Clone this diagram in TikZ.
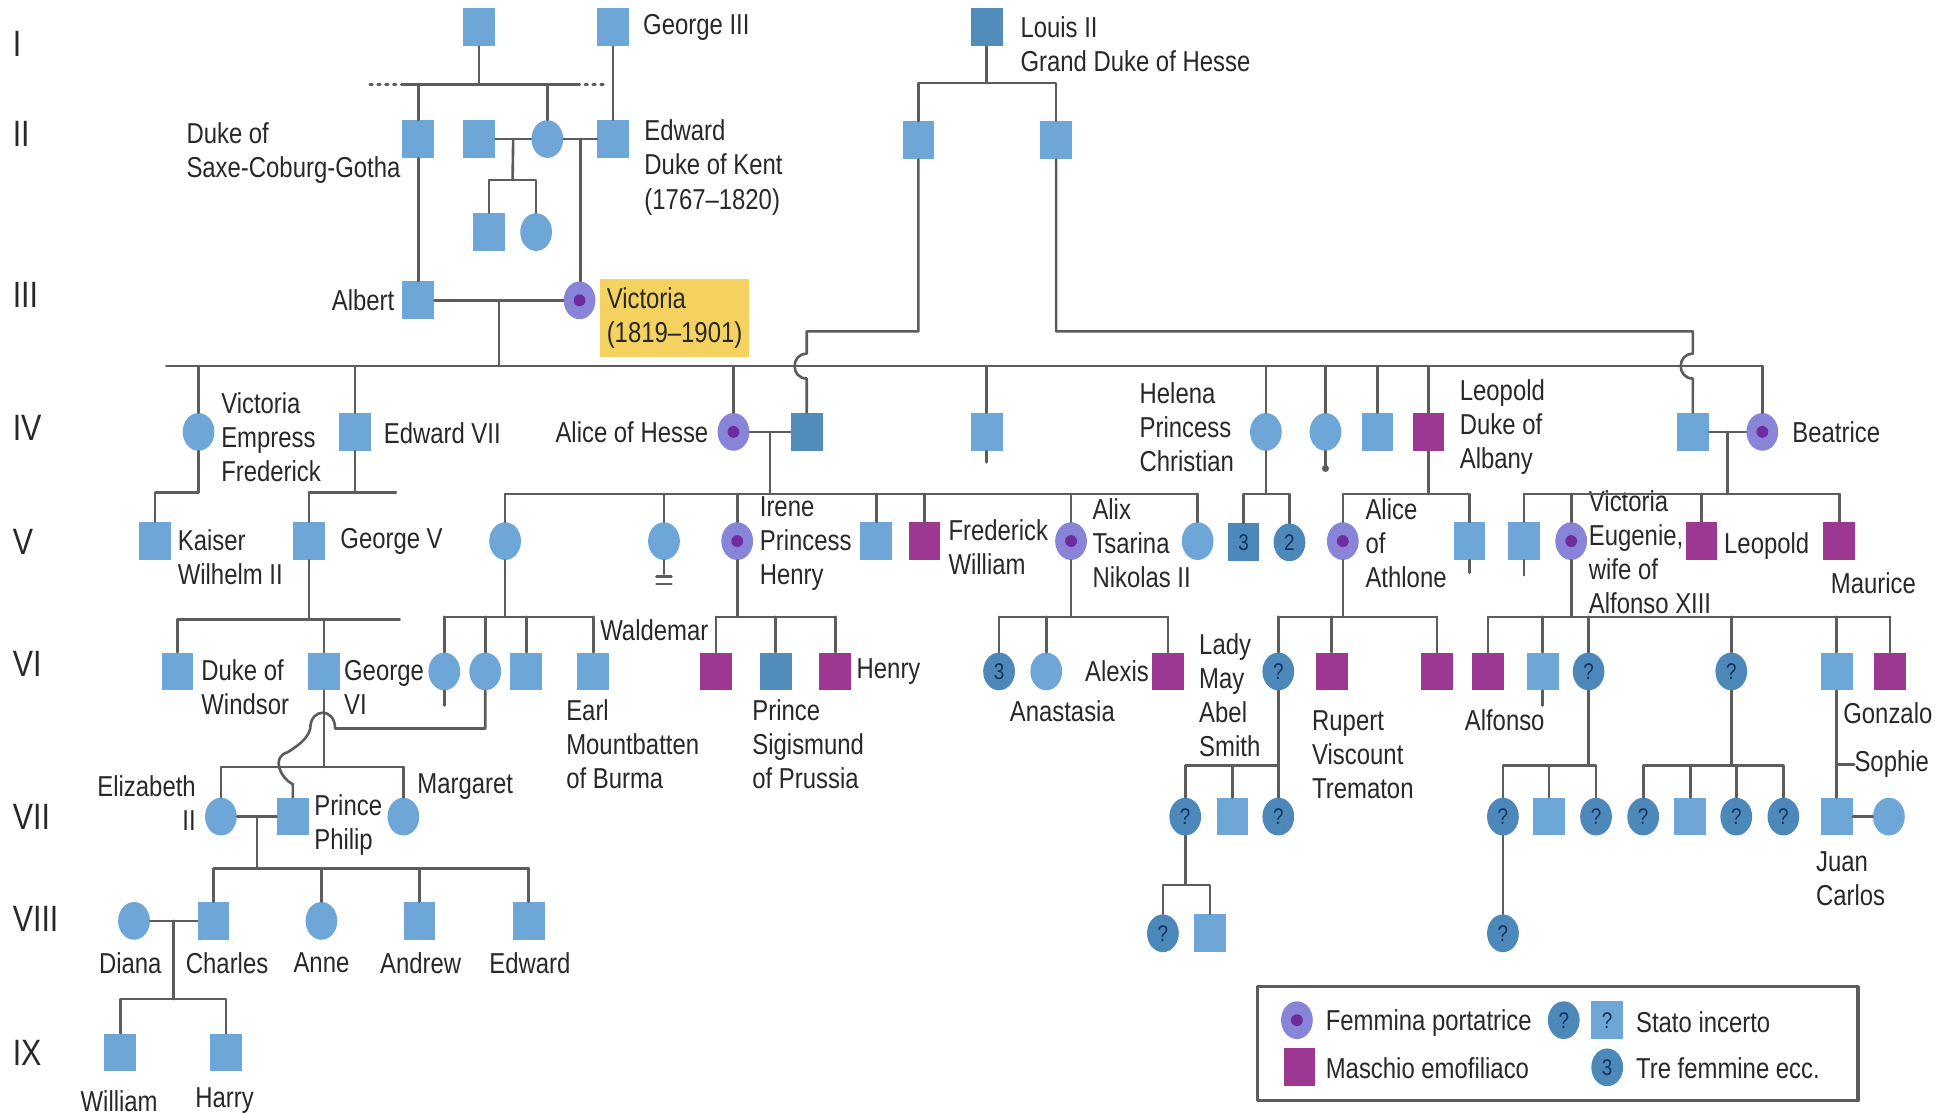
\documentclass[tikz,border=0pt]{standalone}
\usepackage{fontspec}
\setmainfont{Liberation Sans}[FakeStretch=0.83]
\usetikzlibrary{shapes.geometric,calc}
\definecolor{pblue}{RGB}{110,167,215}
\definecolor{dblue}{RGB}{82,140,186}
\definecolor{qblue}{RGB}{76,136,186}
\definecolor{navy}{RGB}{22,52,92}
\definecolor{hemoc}{RGB}{156,56,146}
\definecolor{carr}{RGB}{136,132,216}
\definecolor{carrdot}{RGB}{112,44,158}
\definecolor{lgray}{RGB}{92,92,92}
\definecolor{txt}{RGB}{40,40,40}
\definecolor{vicyel}{RGB}{245,210,96}

\begin{document}
\begin{tikzpicture}[x=0.025cm,y=-0.025cm,line cap=round,line join=round,
  ln/.style={draw=lgray,line width=1.5pt},
  shp/.style={inner sep=0,minimum width=0.64cm,minimum height=0.76cm},
  male/.style={shp,rectangle,fill=pblue},
  dmale/.style={shp,rectangle,fill=dblue},
  fem/.style={shp,ellipse,fill=pblue},
  carrier/.style={shp,ellipse,fill=carr,path picture={\fill[carrdot] (path picture bounding box.center) circle (3.4pt);}},
  hemo/.style={shp,rectangle,fill=hemoc},
  qfem/.style={shp,ellipse,fill=qblue,text=navy,font=\fontsize{13}{13}\selectfont},
  qmale/.style={shp,rectangle,fill=pblue,text=navy,font=\fontsize{13}{13}\selectfont},
  grpm/.style={shp,rectangle,fill=qblue,text=navy,font=\fontsize{13}{13}\selectfont},
  lbl/.style={anchor=west,align=left,inner sep=0,text=txt,font=\fontsize{16.5}{19.5}\selectfont},
  gen/.style={anchor=west,inner sep=0,text=txt,font=\fontsize{21}{21}\selectfont}]
\useasboundingbox (0,0) rectangle (1568,900);

% generation numerals
\node[gen] (g1) at (10,35) {I};
\node[gen] (g2) at (10,108) {II};
\node[gen] (g3) at (10,238) {III};
\node[gen] (g4) at (10,345) {IV};
\node[gen] (g5) at (10,437) {V};
\node[gen] (g6) at (10,535) {VI};
\node[gen] (g7) at (10,658) {VII};
\node[gen] (g8) at (10,740) {VIII};
\node[gen] (g9) at (10,848) {IX};

% generation I
\node[male] (anc) at (386,22) {};
\node[male] (george) at (494,22) {};
\node[lbl] (t-george) at (518,22) {George III};
\node[dmale] (louis) at (795,22) {};
\node[lbl] (t-louis) at (822,36) {Louis II\\Grand Duke of Hesse};

% generation II
\node[male] (scg) at (337,112) {};
\node[lbl] (t-scg) at (150,123) {Duke of\\Saxe-Coburg-Gotha};
\node[male] (kar) at (386,112) {};
\node[fem] (vmary) at (441,112) {};
\node[male] (kent) at (494,112) {};
\node[lbl] (t-kent) at (519,135) {Edward\\Duke of Kent\\(1767--1820)};
\node[male] (hs1) at (394,187) {};
\node[fem] (hs2) at (432,187) {};
\node[male] (lou1) at (740,113) {};
\node[male] (lou2) at (851,113) {};

% generation III
\node[male] (albert) at (337,242) {};
\node[lbl,anchor=east] (t-albert) at (318,242) {Albert};
\node[carrier] (victoria) at (467,242) {};
\node[lbl,fill=vicyel,inner xsep=4pt,inner ysep=5pt] (t-victoria) at (483,256) {Victoria\\(1819--1901)};

% generation IV
\node[fem] (vicfred) at (160,348) {};
\node[lbl] (t-vicfred) at (178,352) {Victoria\\Empress\\Frederick};
\node[male] (ed7) at (286,348) {};
\node[lbl] (t-ed7) at (309,349) {Edward VII};
\node[carrier] (alice) at (591,348) {};
\node[lbl,anchor=east] (t-alice) at (571,348) {Alice of Hesse};
\node[dmale] (louis4) at (650,348) {};
\node[male] (alfred) at (795,348) {};
\node[fem] (helena) at (1020,348) {};
\node[lbl] (t-helena) at (918,344) {Helena\\Princess\\Christian};
\node[fem] (louise) at (1068,348) {};
\node[male] (arthur) at (1110,348) {};
\node[hemo] (leopold) at (1151,348) {};
\node[lbl] (t-leopold) at (1176,344) {Leopold\\Duke of\\Albany};
\node[male] (henryb) at (1364,348) {};
\node[carrier] (beatrice) at (1420,348) {};
\node[lbl] (t-beatrice) at (1444,348) {Beatrice};

% generation V
\node[male] (wilhelm) at (125,436) {};
\node[lbl] (t-wilhelm) at (143,449) {Kaiser\\Wilhelm II};
\node[male] (george5) at (249,436) {};
\node[lbl] (t-george5) at (274,436) {George V};
\node[fem] (vhes) at (407,436) {};
\node[fem] (ella) at (535,436) {};
\node[carrier] (irene) at (594,436) {};
\node[lbl] (t-irene) at (612,438) {Irene\\Princess\\Henry};
\node[male] (ernst) at (706,436) {};
\node[hemo] (fritz) at (745,436) {};
\node[lbl] (t-fritz) at (764,441) {Frederick\\William};
\node[carrier] (alix) at (863,436) {};
\node[lbl] (t-alix) at (880,438) {Alix\\Tsarina\\Nikolas II};
\node[fem] (may) at (965,436) {};
\node[grpm] (hel3) at (1002,437) {3};
\node[qfem] (hel2) at (1039,437) {2};
\node[carrier] (athlone) at (1082,436) {};
\node[lbl] (t-athlone) at (1100,438) {Alice\\of\\Athlone};
\node[male] (charlesed) at (1184,436) {};
\node[male] (alex) at (1228,436) {};
\node[carrier] (ena) at (1266,436) {};
\node[lbl] (t-ena) at (1280,445) {Victoria\\Eugenie,\\wife of\\Alfonso XIII};
\node[hemo] (leop2) at (1371,436) {};
\node[lbl] (t-leop2) at (1389,440) {Leopold};
\node[hemo] (maurice) at (1482,436) {};
\node[lbl] (t-maurice) at (1475,470) {Maurice};

% generation VI
\node[male] (windsor) at (143,541) {};
\node[lbl] (t-windsor) at (162,554) {Duke of\\Windsor};
\node[male] (george6) at (261,541) {};
\node[lbl] (t-george6) at (277,554) {George\\VI};
\node[fem] (alb1) at (358,541) {};
\node[fem] (alb2) at (391,541) {};
\node[male] (alb3) at (424,541) {};
\node[male] (mountb) at (478,541) {};
\node[lbl] (t-mountb) at (456,600) {Earl\\Mountbatten\\of Burma};
\node[hemo] (walde) at (577,541) {};
\node[lbl,anchor=east] (t-walde) at (571,508) {Waldemar};
\node[dmale] (sigis) at (625,541) {};
\node[lbl] (t-sigis) at (606,600) {Prince\\Sigismund\\of Prussia};
\node[hemo] (henry) at (673,541) {};
\node[lbl] (t-henry) at (690,541) {Henry};
\node[qfem] (olga) at (805,541) {3};
\node[fem] (anast) at (843,541) {};
\node[lbl,anchor=center] (t-anast) at (856,573) {Anastasia};
\node[hemo] (alexis) at (941,541) {};
\node[lbl,anchor=east] (t-alexis) at (926,541) {Alexis};
\node[qfem] (lmay) at (1030,541) {?};
\node[lbl] (t-lmay) at (966,560) {Lady\\May\\Abel\\Smith};
\node[hemo] (rupert) at (1073,541) {};
\node[lbl] (t-rupert) at (1057,608) {Rupert\\Viscount\\Trematon};
\node[hemo] (maurtk) at (1158,541) {};
\node[hemo] (alfonso) at (1199,541) {};
\node[lbl] (t-alfonso) at (1180,580) {Alfonso};
\node[male] (jaime) at (1243,541) {};
\node[qfem] (beatr) at (1280,541) {?};
\node[qfem] (maria) at (1395,541) {?};
\node[male] (juan) at (1480,541) {};
\node[hemo] (gonzalo) at (1523,541) {};
\node[lbl] (t-gonzalo) at (1485,575) {Gonzalo};

% generation VII
\node[fem] (eliz) at (178,658) {};
\node[lbl,anchor=east,align=right] (t-eliz) at (158,647) {Elizabeth\\II};
\node[male] (philip) at (236,658) {};
\node[lbl] (t-philip) at (253,665) {Prince\\Philip};
\node[fem] (marg) at (325,658) {};
\node[lbl] (t-marg) at (336,634) {Margaret};
\node[qfem] (lm1) at (955,658) {?};
\node[male] (lm2) at (993,658) {};
\node[qfem] (lm3) at (1030,658) {?};
\node[qfem] (bt1) at (1211,658) {?};
\node[male] (bt2) at (1248,658) {};
\node[qfem] (bt3) at (1286,658) {?};
\node[qfem] (mc1) at (1324,658) {?};
\node[male] (mc2) at (1362,658) {};
\node[qfem] (mc3) at (1399,658) {?};
\node[qfem] (mc4) at (1437,658) {?};
\node[male] (jcarlos) at (1480,658) {};
\node[lbl] (t-jcarlos) at (1463,708) {Juan\\Carlos};
\node[fem] (sophie) at (1522,658) {};
\node[lbl] (t-sophie) at (1494,616) {Sophie};

% generation VIII
\node[fem] (diana) at (108,742) {};
\node[male] (charles) at (172,742) {};
\node[fem] (anne) at (259,742) {};
\node[male] (andrew) at (338,742) {};
\node[male] (edward) at (426,742) {};
\node[lbl,anchor=center] (t-diana) at (105,776) {Diana};
\node[lbl,anchor=center] (t-charles) at (183,776) {Charles};
\node[lbl,anchor=center] (t-anne) at (259,776) {Anne};
\node[lbl,anchor=center] (t-andrew) at (339,776) {Andrew};
\node[lbl,anchor=center] (t-edward) at (427,776) {Edward};
\node[qfem] (lm11) at (937,752) {?};
\node[male] (lm12) at (975,752) {};
\node[qfem] (bt11) at (1211,752) {?};

% generation IX
\node[male] (william) at (97,848) {};
\node[male] (harry) at (182,848) {};
\node[lbl,anchor=center] (t-william) at (96,887) {William};
\node[lbl,anchor=center] (t-harry) at (181,887) {Harry};

% I -> II
\coordinate (sb1l) at (324,68); \coordinate (sb1r) at (465,68);
\coordinate (sb1ld) at (298,68); \coordinate (sb1rd) at (490,68);
\draw[ln] (sb1l) -- (sb1r);
\draw[ln,dash pattern=on 1.5pt off 3pt] (sb1ld) -- (sb1l) (sb1r) -- (sb1rd);
\draw[ln] (anc) -- (anc |- sb1l);
\draw[ln] (scg) -- (scg |- sb1l);
\draw[ln] (vmary) -- (vmary |- sb1l);
\draw[ln] (george) -- (kent);
\draw[ln] (kar) -- (vmary) -- (kent);
\coordinate (m1) at ($(kar)!0.5!(vmary)$);
\coordinate (sb2) at (413,145);
\draw[ln] (m1) -- (sb2);
\draw[ln] (hs1) -- (hs1 |- sb2) -- (hs2 |- sb2) -- (hs2);
\coordinate (m2) at ($(vmary)!0.5!(kent)$);
\draw[ln] (m2) -- (m2 |- victoria.north);
\coordinate (sbL) at (740,67); \coordinate (sbLr) at (851,67);
\draw[ln] (louis) -- (louis |- sbL);
\draw[ln] (lou1) -- (sbL) -- (sbLr) -- (lou2);

% III -> IV
\draw[ln] (scg) -- (albert);
\draw[ln] (albert) -- (victoria);
\coordinate (m3) at ($(albert)!0.5!(victoria)$);
\coordinate (sb4l) at (134,295); \coordinate (sb4r) at (1420,295);
\draw[ln] (m3) -- (m3 |- sb4l);
\draw[ln] (sb4l) -- (sb4r);
\foreach \c in {vicfred,ed7,alice,alfred,helena,louise,arthur,leopold,beatrice}
  \draw[ln] (\c) -- (\c |- sb4l);
% Hesse sons crossing over
\coordinate (h1) at (740,267); \coordinate (h2) at (650,267);
\draw[ln] (lou1) -- (h1) -- (h2) -- ++(0,18) .. controls +(-13,0) and +(-13,0) .. ++(0,20) -- (louis4);
\coordinate (h3) at (851,267); \coordinate (h4) at (1364,267);
\draw[ln] (lou2) -- (h3) -- (h4) -- ++(0,18) .. controls +(-13,0) and +(-13,0) .. ++(0,20) -- (henryb);
\draw[ln] (alice) -- (louis4);
\draw[ln] (henryb) -- (beatrice);
\draw[ln] (alfred.south) -- ++(0,9);
\draw[ln] (louise.south) -- ++(0,14);
\fill[lgray] ($(louise.south)+(0,14)$) circle (2pt);

% IV -> V
\coordinate (vf1) at (160,397); \coordinate (vf2) at (125,397);
\draw[ln] (vicfred) -- (vf1) -- (vf2) -- (wilhelm);
\coordinate (e1) at (286,397); \coordinate (e2) at (249,397); \coordinate (e3) at (319,397);
\draw[ln] (ed7) -- (e1);
\draw[ln] (e2) -- (e3);
\draw[ln] (e2) -- (george5);
\coordinate (m4) at ($(alice)!0.5!(louis4)$);
\coordinate (sb5al) at (407,398); \coordinate (sb5ar) at (965,398);
\draw[ln] (m4) -- (m4 |- sb5al);
\draw[ln] (sb5al) -- (sb5ar);
\foreach \c in {vhes,ella,irene,ernst,fritz,alix,may}
  \draw[ln] (\c) -- (\c |- sb5al);
\draw[ln] (ella.south) -- ++(0,11);
\draw[ln] ($(ella.south)+(-6,13)$) -- ++(12,0);
\draw[ln] ($(ella.south)+(-6,19)$) -- ++(12,0);
\coordinate (sb5bl) at (1002,398); \coordinate (sb5br) at (1039,398);
\draw[ln] (helena) -- (helena |- sb5bl);
\draw[ln] (hel3) -- (sb5bl) -- (sb5br) -- (hel2);
\coordinate (sb5cl) at (1082,398); \coordinate (sb5cr) at (1184,398);
\draw[ln] (leopold) -- (leopold |- sb5cl);
\draw[ln] (athlone) -- (sb5cl) -- (sb5cr) -- (charlesed);
\draw[ln] (charlesed.south) -- ++(0,10);
\coordinate (m5) at ($(henryb)!0.5!(beatrice)$);
\coordinate (sb5dl) at (1228,398); \coordinate (sb5dr) at (1482,398);
\draw[ln] (m5) -- (m5 |- sb5dl);
\draw[ln] (sb5dl) -- (sb5dr);
\foreach \c in {alex,ena,leop2,maurice}
  \draw[ln] (\c) -- (\c |- sb5dl);
\draw[ln] (alex.south) -- ++(0,12);

% V -> VI
\coordinate (sb6al) at (143,499); \coordinate (sb6ar) at (322,499);
\draw[ln] (george5) -- (george5 |- sb6al);
\draw[ln] (sb6al) -- (sb6ar);
\foreach \c in {windsor,george6}
  \draw[ln] (\c) -- (\c |- sb6al);
\coordinate (sb6bl) at (358,497); \coordinate (sb6br) at (478,497);
\draw[ln] (vhes) -- (vhes |- sb6bl);
\draw[ln] (sb6bl) -- (sb6br);
\foreach \c in {alb1,alb2,alb3,mountb}
  \draw[ln] (\c) -- (\c |- sb6bl);
\draw[ln] (alb1.south) -- ++(0,12);
\coordinate (sb6cl) at (577,497); \coordinate (sb6cr) at (673,497);
\draw[ln] (irene) -- (irene |- sb6cl);
\draw[ln] (sb6cl) -- (sb6cr);
\foreach \c in {walde,sigis,henry}
  \draw[ln] (\c) -- (\c |- sb6cl);
\coordinate (sb6dl) at (805,497); \coordinate (sb6dr) at (941,497);
\draw[ln] (alix) -- (alix |- sb6dl);
\draw[ln] (sb6dl) -- (sb6dr);
\foreach \c in {olga,anast,alexis}
  \draw[ln] (\c) -- (\c |- sb6dl);
\coordinate (sb6el) at (1030,497); \coordinate (sb6er) at (1158,497);
\draw[ln] (athlone) -- (athlone |- sb6el);
\draw[ln] (sb6el) -- (sb6er);
\foreach \c in {lmay,rupert,maurtk}
  \draw[ln] (\c) -- (\c |- sb6el);
\coordinate (sb6fl) at (1199,497); \coordinate (sb6fr) at (1523,497);
\draw[ln] (ena) -- (ena |- sb6fl);
\draw[ln] (sb6fl) -- (sb6fr);
\foreach \c in {alfonso,jaime,beatr,maria,juan,gonzalo}
  \draw[ln] (\c) -- (\c |- sb6fl);
\draw[ln] (jaime.south) -- ++(0,12);

% VI -> VII
\coordinate (sb7al) at (178,618); \coordinate (sb7ar) at (325,618);
\draw[ln] (george6) -- (george6 |- sb7al);
\draw[ln] (eliz) -- (sb7al) -- (sb7ar) -- (marg);
% Philip, over two lines
\coordinate (ph1) at (391,587); \coordinate (ph2) at (270,587); \coordinate (ph3) at (250,587);
\draw[ln] (alb2) -- (ph1) -- (ph2) .. controls +(0,-17) and +(0,-17) .. (ph3)
  .. controls +(-2,9) and +(6,-4) .. (232,606)
  .. controls +(-14,4) and +(-10,-5) .. (236,632) -- (philip);
\draw[ln] (eliz) -- (philip);
\coordinate (sb7bl) at (955,617); \coordinate (sb7br) at (1030,617);
\draw[ln] (lmay) -- (lm3);
\draw[ln] (lm1) -- (sb7bl) -- (sb7br);
\draw[ln] (lm2) -- (lm2 |- sb7bl);
\coordinate (sb7cl) at (1211,617); \coordinate (sb7cr) at (1286,617);
\draw[ln] (beatr) -- (beatr |- sb7cl);
\draw[ln] (bt1) -- (sb7cl) -- (sb7cr) -- (bt3);
\draw[ln] (bt2) -- (bt2 |- sb7cl);
\coordinate (sb7dl) at (1324,617); \coordinate (sb7dr) at (1437,617);
\draw[ln] (maria) -- (maria |- sb7dl);
\draw[ln] (mc1) -- (sb7dl) -- (sb7dr) -- (mc4);
\foreach \c in {mc2,mc3}
  \draw[ln] (\c) -- (\c |- sb7dl);
\draw[ln] (juan) -- (jcarlos);
\coordinate (soph) at (1480,616);
\draw[ln] (soph) -- (t-sophie.west);
\draw[ln] (jcarlos) -- (sophie);

% VII -> VIII
\coordinate (m7) at ($(eliz)!0.5!(philip)$);
\coordinate (sb8l) at (172,700); \coordinate (sb8r) at (426,700);
\draw[ln] (m7) -- (m7 |- sb8l);
\draw[ln] (sb8l) -- (sb8r);
\foreach \c in {charles,anne,andrew,edward}
  \draw[ln] (\c) -- (\c |- sb8l);
\coordinate (sb8bl) at (937,713); \coordinate (sb8br) at (975,713);
\draw[ln] (lm1) -- (lm1 |- sb8bl);
\draw[ln] (lm11) -- (sb8bl) -- (sb8br) -- (lm12);
\draw[ln] (bt1) -- (bt11);

% VIII -> IX
\draw[ln] (diana) -- (charles);
\coordinate (m8) at ($(diana)!0.5!(charles)$);
\coordinate (sb9l) at (97,805); \coordinate (sb9r) at (182,805);
\draw[ln] (m8) -- (m8 |- sb9l);
\draw[ln] (william) -- (sb9l) -- (sb9r) -- (harry);

% legend
\node[draw=lgray,line width=1.8pt,minimum width=12.1cm,minimum height=2.3cm] (legend) at (1255,841) {};
\node[carrier] (k1) at (1045,822) {};
\node[lbl] (t-k1) at (1068,824) {Femmina portatrice};
\node[hemo] (k2) at (1047,860) {};
\node[lbl] (t-k2) at (1068,861) {Maschio emofiliaco};
\node[qfem] (k3) at (1260,822) {?};
\node[qmale] (k4) at (1295,822) {?};
\node[lbl] (t-k3) at (1318,824) {Stato incerto};
\node[qfem] (k5) at (1295,860) {3};
\node[lbl] (t-k5) at (1318,861) {Tre femmine ecc.};
\end{tikzpicture}
\end{document}
